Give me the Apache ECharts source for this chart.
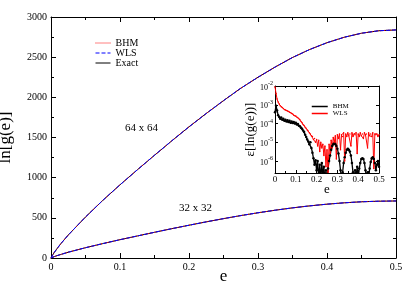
<!DOCTYPE html>
<html><head><meta charset="utf-8">
<script src="https://cdn.jsdelivr.net/npm/echarts@6/dist/echarts.min.js"></script>
<style>html,body{margin:0;padding:0;background:#fff}#c{width:415px;height:290px}</style>
</head><body><div id="c"></div>
<script>
// ---- main plot data: ln g(e) ----
const eMain = [0, 0.0025, 0.005, 0.01, 0.015, 0.025, 0.05, 0.075, 0.1, 0.125, 0.15, 0.175, 0.2, 0.225, 0.25, 0.275, 0.3, 0.325, 0.35, 0.375, 0.4, 0.425, 0.45, 0.475, 0.5];
const lng64 = [0, 39, 72, 131, 186, 286, 510, 717, 911, 1097, 1279, 1458, 1633, 1799, 1959, 2113, 2250, 2378, 2496, 2596, 2680, 2748, 2798, 2829, 2839];
const lng32 = [0, 10, 18, 33, 46, 72, 128, 179, 228, 274, 320, 365, 408, 450, 490, 528, 563, 595, 624, 649, 670, 687, 700, 707, 710];

// ---- inset data: relative error ----
const eInset = [0,0.005,0.01,0.015,0.02,0.025,0.03,0.035,0.04,0.045,0.05,0.055,0.06,0.065,0.07,0.075,0.08,0.085,0.09,0.095,0.1,0.105,0.11,0.115,0.12,0.125,0.13,0.135,0.14,0.145,0.15,0.155,0.16,0.165,0.17,0.175,0.18,0.185,0.19,0.195,0.2,0.205,0.21,0.215,0.22,0.225,0.23,0.235,0.24,0.245,0.25,0.255,0.26,0.265,0.27,0.275,0.28,0.285,0.29,0.295,0.3,0.305,0.31,0.315,0.32,0.325,0.33,0.335,0.34,0.345,0.35,0.355,0.36,0.365,0.37,0.375,0.38,0.385,0.39,0.395,0.4,0.405,0.41,0.415,0.42,0.425,0.43,0.435,0.44,0.445,0.45,0.455,0.46,0.465,0.47,0.475,0.48,0.485,0.49,0.495,0.5];
const errBHM = [4.0e-4,8.9e-4,5.0e-4,2.8e-4,2.2e-4,1.8e-4,2.1e-4,1.6e-4,1.8e-4,1.4e-4,
 1.6e-4,1.3e-4,1.5e-4,1.2e-4,1.4e-4,1.1e-4,1.3e-4,1.05e-4,1.2e-4,1.0e-4,
 1.1e-4,8.9e-5,9.5e-5,7.6e-5,7.1e-5,6.0e-5,5.2e-5,4.2e-5,3.5e-5,2.5e-5,
 1.9e-5,1.4e-5,1.1e-5,7.9e-6,1.0e-5,5.0e-6,2.8e-6,1.4e-6,6.3e-7,1.1e-6,
 3.2e-7,1.0e-6,1e-7,6.3e-7,1e-7,7.9e-7,1.6e-7,5.0e-7,1e-7,3.2e-7,
 1e-7,4.0e-7,1.0e-6,2.0e-6,4.0e-6,6.3e-6,7.9e-6,8.9e-6,7.9e-6,6.3e-6,
 4.5e-6,2.5e-6,1.0e-6,3.2e-7,1e-7,2.5e-7,7.9e-7,1.6e-6,2.8e-6,4.0e-6,
 4.5e-6,4.0e-6,3.2e-6,2.0e-6,7.9e-7,2.5e-7,1e-7,3.2e-7,1.3e-7,5.0e-7,
 1e-7,4.0e-7,7.9e-7,1.3e-6,1.4e-6,1.3e-6,7.9e-7,3.2e-7,1e-7,2.5e-7,
 1e-7,4.0e-7,8.9e-7,1.4e-6,1.6e-6,1.3e-6,7.9e-7,3.2e-7,6.3e-7,1.0e-6,
 5.0e-7];
const errWLS = [8.9e-3,4.0e-3,2.0e-3,1.4e-3,1.1e-3,8.9e-4,7.9e-4,7.1e-4,6.3e-4,5.6e-4,
 5.2e-4,5.0e-4,4.7e-4,4.4e-4,4.0e-4,3.8e-4,3.4e-4,3.2e-4,2.8e-4,2.6e-4,
 2.5e-4,2.2e-4,2.0e-4,1.8e-4,1.6e-4,1.3e-4,1.1e-4,8.9e-5,7.9e-5,6.3e-5,
 5.6e-5,4.5e-5,4.0e-5,3.2e-5,2.8e-5,2.2e-5,2.0e-5,1.4e-5,1.6e-5,1.0e-5,
 1.4e-5,6.3e-6,1.3e-5,3.2e-6,1.0e-5,5.0e-6,7.9e-6,2.0e-6,6.3e-6,5.0e-7,
 4.0e-6,2.5e-7,7.9e-6,2.5e-6,1.3e-5,5.0e-6,1.8e-5,1.0e-5,2.2e-5,1.3e-6,
 2.5e-5,1.6e-5,2.8e-5,4.0e-6,2.5e-5,2.0e-5,3.2e-5,1.0e-6,2.8e-5,2.0e-5,
 3.2e-5,2.2e-5,2.8e-5,6.3e-6,3.2e-5,2.0e-5,2.8e-5,2.5e-5,3.2e-5,2.5e-6,
 2.8e-5,2.0e-5,3.2e-5,2.2e-5,2.8e-5,1.6e-5,3.2e-5,2.5e-5,2.8e-5,5.0e-6,
 3.2e-5,2.2e-5,2.8e-5,2.0e-5,3.2e-5,4.0e-7,2.8e-5,2.5e-5,2.8e-5,2.0e-5,
 2.5e-5];

const FONT = '"Liberation Serif", "Times New Roman", serif';
const BLACK = '#000';
const pairs = (xs, ys) => xs.map((x, i) => [x, ys[i]]);

const chart = echarts.init(document.getElementById('c'), null, {renderer: 'canvas'});

function frameAxis(extra) {
  return Object.assign({
    axisLine: {show: true, onZero: false, lineStyle: {color: BLACK, width: 1}},
    splitLine: {show: false},
    axisLabel: {show: false},
    nameMoveOverlap: false
  }, extra);
}

function mainLine(name, data, style) {
  return {
    name: name, type: 'line', xAxisIndex: 0, yAxisIndex: 0, data: data,
    symbol: 'none', showSymbol: false, smooth: false,
    lineStyle: style, itemStyle: {color: style.color}, z: 3
  };
}

const expLabel = v => {
  const l = Math.log10(v);
  const k = Math.round(l);
  if (Math.abs(l - k) > 0.01) return '';
  return '{b|10}{s|' + k + '}';
};

const option = {
  animation: false,
  backgroundColor: '#fff',
  grid: [
    {left: 51, top: 17, width: 345, height: 241, containLabel: false, outerBoundsMode: 'none'},
    {left: 275, top: 86, width: 104, height: 87, containLabel: false, outerBoundsMode: 'none'}
  ],
  xAxis: [
    frameAxis({gridIndex: 0, type: 'value', min: 0, max: 0.5, interval: 0.1, position: 'bottom',
      axisTick: {show: true, inside: true, length: 5, lineStyle: {color: BLACK}},
      minorTick: {show: true, splitNumber: 2, length: 3, lineStyle: {color: BLACK}},
      axisLabel: {show: true, color: BLACK, fontFamily: FONT, fontSize: 10, margin: 4, formatter: v => String(v)},
      name: 'e', nameLocation: 'middle', nameGap: 10,
      nameTextStyle: {fontFamily: FONT, fontSize: 17, color: BLACK}}),
    frameAxis({gridIndex: 0, type: 'value', min: 0, max: 0.5, interval: 0.1, position: 'top',
      axisTick: {show: true, inside: true, length: 5, lineStyle: {color: BLACK}},
      minorTick: {show: true, splitNumber: 2, length: 3, lineStyle: {color: BLACK}}}),
    frameAxis({gridIndex: 1, type: 'value', min: 0, max: 0.5, interval: 0.1, position: 'bottom',
      axisTick: {show: true, inside: true, length: 3, lineStyle: {color: BLACK}},
      minorTick: {show: true, splitNumber: 2, length: 2, lineStyle: {color: BLACK}},
      axisLabel: {show: true, color: BLACK, fontFamily: FONT, fontSize: 9, margin: 2, formatter: v => String(v)},
      name: 'e', nameLocation: 'middle', nameGap: 10,
      nameTextStyle: {fontFamily: FONT, fontSize: 13, color: BLACK}}),
    frameAxis({gridIndex: 1, type: 'value', min: 0, max: 0.5, interval: 0.1, position: 'top',
      axisTick: {show: true, inside: true, length: 3, lineStyle: {color: BLACK}},
      minorTick: {show: true, splitNumber: 2, length: 2, lineStyle: {color: BLACK}}})
  ],
  yAxis: [
    frameAxis({gridIndex: 0, type: 'value', min: 0, max: 3000, interval: 500, position: 'left',
      axisTick: {show: true, inside: true, length: 5, lineStyle: {color: BLACK}},
      minorTick: {show: true, splitNumber: 2, length: 3, lineStyle: {color: BLACK}},
      axisLabel: {show: true, color: BLACK, fontFamily: FONT, fontSize: 10, margin: 4, formatter: v => String(v)},
      name: 'ln[g(e)]', nameLocation: 'middle', nameGap: 37,
      nameTextStyle: {fontFamily: FONT, fontSize: 17, color: BLACK}}),
    frameAxis({gridIndex: 0, type: 'value', min: 0, max: 3000, interval: 500, position: 'right',
      axisTick: {show: true, inside: true, length: 5, lineStyle: {color: BLACK}},
      minorTick: {show: true, splitNumber: 2, length: 3, lineStyle: {color: BLACK}}}),
    frameAxis({gridIndex: 1, type: 'log', logBase: 10, min: 2.3e-7, max: 1e-2, position: 'left',
      axisTick: {show: true, inside: true, length: 3, lineStyle: {color: BLACK}},
      axisLabel: {show: true, color: BLACK, fontFamily: FONT, fontSize: 8, margin: 2,
        formatter: expLabel, showMinLabel: false,
        rich: {
          b: {fontFamily: FONT, fontSize: 8, color: BLACK, lineHeight: 11, verticalAlign: 'bottom'},
          s: {fontFamily: FONT, fontSize: 6, color: BLACK, lineHeight: 11, verticalAlign: 'top'}
        }},
      name: 'ε[ln(g(e))]', nameLocation: 'middle', nameGap: 18,
      nameTextStyle: {fontFamily: FONT, fontSize: 13, color: BLACK}}),
    frameAxis({gridIndex: 1, type: 'log', logBase: 10, min: 2.3e-7, max: 1e-2, position: 'right',
      axisTick: {show: true, inside: true, length: 3, lineStyle: {color: BLACK}}})
  ],
  legend: [
    {data: ['BHM', 'WLS', 'Exact'], orient: 'vertical', left: 90, top: 33,
      itemWidth: 15, itemHeight: 10, itemGap: 0, selectedMode: false,
      itemStyle: {opacity: 0}, lineStyle: {width: 1},
      textStyle: {fontFamily: FONT, fontSize: 10, color: BLACK}},
    {data: ['BHM (inset)', 'WLS (inset)'], orient: 'vertical', left: 306, top: 98,
      itemWidth: 16, itemHeight: 8, itemGap: 0, selectedMode: false,
      itemStyle: {opacity: 0}, lineStyle: {width: 1.5},
      formatter: n => n.split(' ')[0],
      textStyle: {fontFamily: FONT, fontSize: 7, color: BLACK}}
  ],
  graphic: [
    {type: 'text', left: 125, top: 123, style: {text: '64 x 64', font: '11px "Liberation Serif"', fill: BLACK}},
    {type: 'text', left: 179, top: 203, style: {text: '32 x 32', font: '11px "Liberation Serif"', fill: BLACK}}
  ],
  series: [
    mainLine('Exact', pairs(eMain, lng64), {color: BLACK, width: 1, type: 'solid'}),
    mainLine('BHM', pairs(eMain, lng64), {color: '#ff0000', width: 1, type: 'dotted'}),
    mainLine('WLS', pairs(eMain, lng64), {color: '#0000ff', width: 1, type: 'dashed'}),
    mainLine('Exact', pairs(eMain, lng32), {color: BLACK, width: 1, type: 'solid'}),
    mainLine('BHM', pairs(eMain, lng32), {color: '#ff0000', width: 1, type: 'dotted'}),
    mainLine('WLS', pairs(eMain, lng32), {color: '#0000ff', width: 1, type: 'dashed'}),
    {name: 'BHM (inset)', type: 'line', xAxisIndex: 2, yAxisIndex: 2, data: pairs(eInset, errBHM),
      symbol: 'circle', symbolSize: 2.5, showSymbol: true, clip: true,
      lineStyle: {color: BLACK, width: 1.3}, itemStyle: {color: BLACK}},
    {name: 'WLS (inset)', type: 'line', xAxisIndex: 2, yAxisIndex: 2, data: pairs(eInset, errWLS),
      symbol: 'circle', symbolSize: 1.5, showSymbol: true, clip: true,
      lineStyle: {color: '#ff0000', width: 1}, itemStyle: {color: '#ff0000'}}
  ]
};
chart.setOption(option);
</script>
</body></html>
